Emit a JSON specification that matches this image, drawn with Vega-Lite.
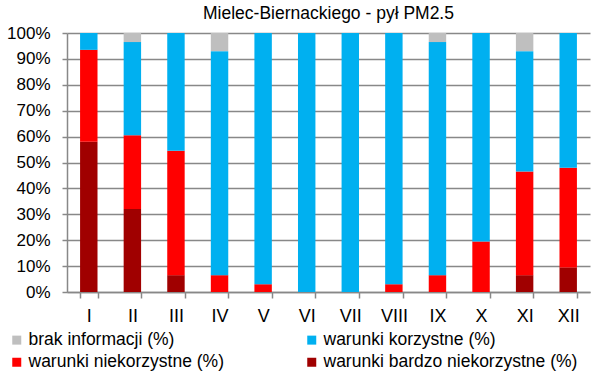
{
  "$schema": "https://vega.github.io/schema/vega-lite/v6.json",
  "autosize": {"type": "none"},
  "padding": {"left": 67, "top": 33, "right": 17, "bottom": 89},
  "width": 523,
  "height": 259,
  "background": "white",
  "title": {"text": "Mielec-Biernackiego - pył PM2.5", "font": "Liberation Sans", "fontSize": 17.5, "fontWeight": "normal", "color": "#000", "anchor": "middle", "offset": 2},
  "data": {"values": [
    {"m": "I", "c": "warunki bardzo niekorzystne (%)", "k": 1, "v": 58},
    {"m": "I", "c": "warunki niekorzystne (%)", "k": 2, "v": 35.5},
    {"m": "I", "c": "warunki korzystne (%)", "k": 3, "v": 6.5},
    {"m": "I", "c": "brak informacji (%)", "k": 4, "v": 0},
    {"m": "II", "c": "warunki bardzo niekorzystne (%)", "k": 1, "v": 32},
    {"m": "II", "c": "warunki niekorzystne (%)", "k": 2, "v": 28.5},
    {"m": "II", "c": "warunki korzystne (%)", "k": 3, "v": 36},
    {"m": "II", "c": "brak informacji (%)", "k": 4, "v": 3.5},
    {"m": "III", "c": "warunki bardzo niekorzystne (%)", "k": 1, "v": 6.5},
    {"m": "III", "c": "warunki niekorzystne (%)", "k": 2, "v": 48},
    {"m": "III", "c": "warunki korzystne (%)", "k": 3, "v": 45.5},
    {"m": "III", "c": "brak informacji (%)", "k": 4, "v": 0},
    {"m": "IV", "c": "warunki bardzo niekorzystne (%)", "k": 1, "v": 0},
    {"m": "IV", "c": "warunki niekorzystne (%)", "k": 2, "v": 6.5},
    {"m": "IV", "c": "warunki korzystne (%)", "k": 3, "v": 86.5},
    {"m": "IV", "c": "brak informacji (%)", "k": 4, "v": 7},
    {"m": "V", "c": "warunki bardzo niekorzystne (%)", "k": 1, "v": 0},
    {"m": "V", "c": "warunki niekorzystne (%)", "k": 2, "v": 3},
    {"m": "V", "c": "warunki korzystne (%)", "k": 3, "v": 97},
    {"m": "V", "c": "brak informacji (%)", "k": 4, "v": 0},
    {"m": "VI", "c": "warunki bardzo niekorzystne (%)", "k": 1, "v": 0},
    {"m": "VI", "c": "warunki niekorzystne (%)", "k": 2, "v": 0},
    {"m": "VI", "c": "warunki korzystne (%)", "k": 3, "v": 100},
    {"m": "VI", "c": "brak informacji (%)", "k": 4, "v": 0},
    {"m": "VII", "c": "warunki bardzo niekorzystne (%)", "k": 1, "v": 0},
    {"m": "VII", "c": "warunki niekorzystne (%)", "k": 2, "v": 0},
    {"m": "VII", "c": "warunki korzystne (%)", "k": 3, "v": 100},
    {"m": "VII", "c": "brak informacji (%)", "k": 4, "v": 0},
    {"m": "VIII", "c": "warunki bardzo niekorzystne (%)", "k": 1, "v": 0},
    {"m": "VIII", "c": "warunki niekorzystne (%)", "k": 2, "v": 3},
    {"m": "VIII", "c": "warunki korzystne (%)", "k": 3, "v": 97},
    {"m": "VIII", "c": "brak informacji (%)", "k": 4, "v": 0},
    {"m": "IX", "c": "warunki bardzo niekorzystne (%)", "k": 1, "v": 0},
    {"m": "IX", "c": "warunki niekorzystne (%)", "k": 2, "v": 6.5},
    {"m": "IX", "c": "warunki korzystne (%)", "k": 3, "v": 90},
    {"m": "IX", "c": "brak informacji (%)", "k": 4, "v": 3.5},
    {"m": "X", "c": "warunki bardzo niekorzystne (%)", "k": 1, "v": 0},
    {"m": "X", "c": "warunki niekorzystne (%)", "k": 2, "v": 19.5},
    {"m": "X", "c": "warunki korzystne (%)", "k": 3, "v": 80.5},
    {"m": "X", "c": "brak informacji (%)", "k": 4, "v": 0},
    {"m": "XI", "c": "warunki bardzo niekorzystne (%)", "k": 1, "v": 6.5},
    {"m": "XI", "c": "warunki niekorzystne (%)", "k": 2, "v": 40},
    {"m": "XI", "c": "warunki korzystne (%)", "k": 3, "v": 46.5},
    {"m": "XI", "c": "brak informacji (%)", "k": 4, "v": 7},
    {"m": "XII", "c": "warunki bardzo niekorzystne (%)", "k": 1, "v": 9.5},
    {"m": "XII", "c": "warunki niekorzystne (%)", "k": 2, "v": 38.5},
    {"m": "XII", "c": "warunki korzystne (%)", "k": 3, "v": 52},
    {"m": "XII", "c": "brak informacji (%)", "k": 4, "v": 0}
  ]},
  "mark": {"type": "bar"},
  "encoding": {
    "x": {
      "field": "m", "type": "nominal", "sort": null,
      "scale": {"paddingInner": 0.6, "paddingOuter": 0.3},
      "axis": {"title": null, "labelAngle": 0, "labelFont": "Liberation Sans", "labelFontSize": 18, "labelColor": "#000", "tickBand": "extent", "domainColor": "#888", "domainWidth": 1.5, "tickColor": "#888", "tickWidth": 1.5, "tickSize": 6, "labelPadding": 9, "grid": false}
    },
    "y": {
      "field": "v", "type": "quantitative", "stack": "zero",
      "scale": {"domain": [0, 100], "nice": false},
      "axis": {"title": null, "values": [0,10,20,30,40,50,60,70,80,90,100], "labelExpr": "datum.value + '%'", "labelFont": "Liberation Sans", "labelFontSize": 17, "labelColor": "#000", "domain": true, "domainColor": "#888", "domainWidth": 1.5, "ticks": true, "tickSize": 5, "tickColor": "#888", "tickWidth": 1.5, "labelPadding": 12, "gridColor": "#888", "gridWidth": 1.5}
    },
    "order": {"field": "k", "type": "quantitative"},
    "color": {
      "field": "c", "type": "nominal",
      "scale": {"domain": ["brak informacji (%)", "warunki niekorzystne (%)", "warunki korzystne (%)", "warunki bardzo niekorzystne (%)"], "range": ["#BFBFBF", "#FF0000", "#00B0F0", "#A00000"]},
      "legend": {"title": null, "orient": "none", "legendX": -59, "legendY": 298, "columns": 2, "columnPadding": 79, "rowPadding": 3.5, "symbolType": "square", "symbolSize": 81, "symbolStrokeWidth": 0, "labelFont": "Liberation Sans", "labelFontSize": 17.5, "labelColor": "#000", "labelOffset": 3, "labelLimit": 400}
    }
  },
  "config": {"view": {"stroke": null}}
}
